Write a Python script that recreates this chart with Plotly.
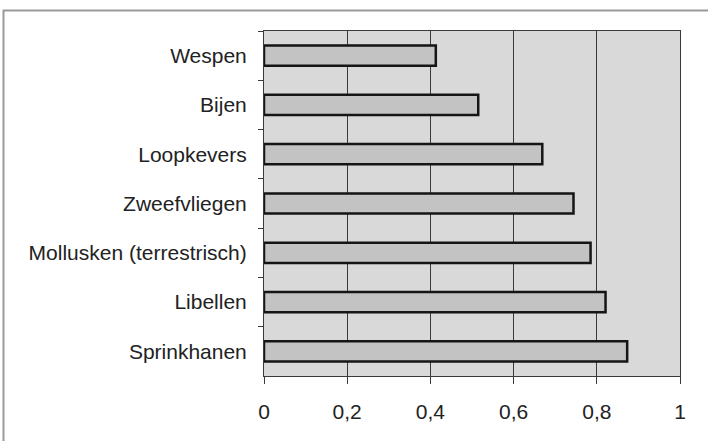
import plotly.graph_objects as go

categories = ["Wespen", "Bijen", "Loopkevers", "Zweefvliegen",
              "Mollusken (terrestrisch)", "Libellen", "Sprinkhanen"]
values = [0.413, 0.515, 0.669, 0.744, 0.785, 0.821, 0.873]
tick_values = [0, 0.2, 0.4, 0.6, 0.8, 1]
tick_labels = ["0", "0,2", "0,4", "0,6", "0,8", "1"]

W, H = 708, 441
L, R, T, B = 264, 28, 31, 65
pw, ph = W - L - R, H - T - B

def px_x(p):
    return (p - L) / pw

def px_y(p):
    return (H - B - p) / ph

fig = go.Figure()
fig.add_trace(go.Bar(
    x=values, y=categories, orientation="h",
    marker=dict(color="#c3c3c3", line=dict(color="#151515", width=2.5)),
    showlegend=False,
))

fig.update_layout(
    width=W, height=H,
    margin=dict(l=L, r=R, t=T, b=B, pad=0),
    paper_bgcolor="white",
    plot_bgcolor="#d9d9d9",
    bargap=0.59,
    font=dict(family="Liberation Sans, Arial, sans-serif", size=21, color="#222222"),
    xaxis=dict(
        range=[0, 1], tickvals=tick_values, ticktext=tick_labels,
        showgrid=True, gridcolor="#3a3a3a", gridwidth=1,
        showline=True, linecolor="#3a3a3a", linewidth=1, mirror=True,
        ticks="outside", ticklen=7, tickcolor="#3a3a3a",
        ticklabelstandoff=10,
        zeroline=False, fixedrange=True,
    ),
    yaxis=dict(
        autorange="reversed", tickson="boundaries",
        showgrid=False,
        showline=True, linecolor="#3a3a3a", linewidth=1, mirror=True,
        ticks="outside", ticklen=5, tickcolor="#3a3a3a",
        ticklabelstandoff=12,
        fixedrange=True,
    ),
    shapes=[dict(
        type="rect", xref="paper", yref="paper",
        x0=px_x(3.5), x1=px_x(760), y0=px_y(10.5), y1=px_y(480),
        line=dict(color="#9a9a9a", width=2), fillcolor="rgba(0,0,0,0)",
        layer="below",
    )],
)

fig.write_html(
    "out.html",
    config={"displayModeBar": False},
    post_script="document.body.style.margin='0';document.body.style.overflow='hidden';",
)
